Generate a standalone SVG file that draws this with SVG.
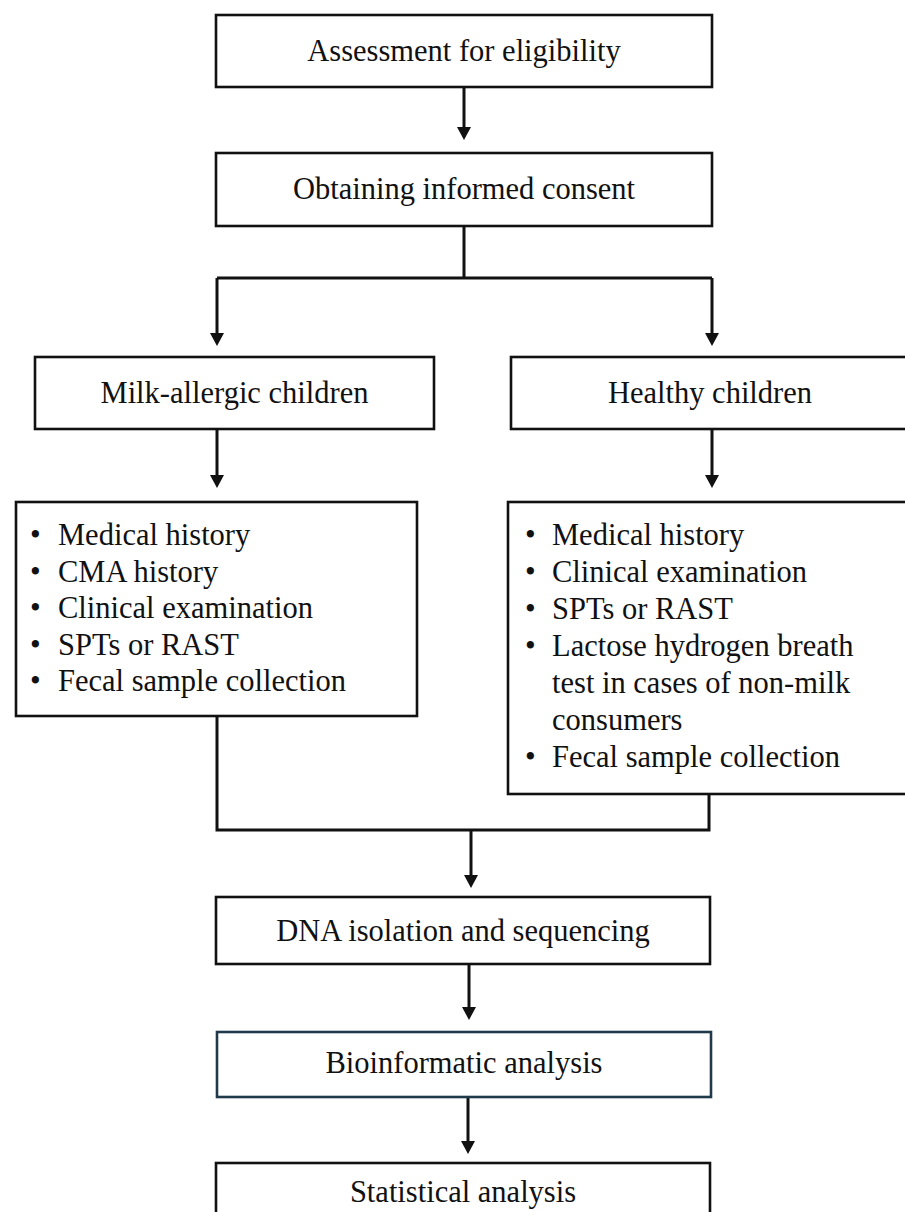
<svg xmlns="http://www.w3.org/2000/svg" width="905" height="1212" viewBox="0 0 905 1212">
<style>
.box{fill:#fff;stroke:#111;stroke-width:2.6}
.teal{stroke:#203a4a}
.t{font-family:"Liberation Serif","Times New Roman",serif;font-size:30.5px;fill:#111}
.c{text-anchor:middle}
.conn{fill:none;stroke:#111;stroke-width:3}
</style>
<defs>
<marker id="ah" markerUnits="userSpaceOnUse" viewBox="0 0 13 14" refX="3" refY="7" markerWidth="13" markerHeight="14" orient="auto">
<path d="M0,0 L13,7 L0,14 z" fill="#111"/>
</marker>
</defs>
<rect width="905" height="1212" fill="#fff"/>
<g id="connectors">
<path class="conn" d="M464,87 V130" marker-end="url(#ah)"/>
<path class="conn" d="M464,226 V278 M217,278 H712"/>
<path class="conn" d="M217,278 V336" marker-end="url(#ah)"/>
<path class="conn" d="M712,278 V336" marker-end="url(#ah)"/>
<path class="conn" d="M217,429 V478" marker-end="url(#ah)"/>
<path class="conn" d="M712,429 V478" marker-end="url(#ah)"/>
<path class="conn" d="M217,716 V830 H709 V794"/>
<path class="conn" d="M471,830 V878" marker-end="url(#ah)"/>
<path class="conn" d="M469,964 V1010" marker-end="url(#ah)"/>
<path class="conn" d="M468,1097 V1144" marker-end="url(#ah)"/>
</g>
<g id="n1">
<rect class="box" x="216" y="15" width="496" height="72"/>
<text class="t c" x="464" y="61">Assessment for eligibility</text>
</g>
<g id="n2">
<rect class="box" x="216" y="153" width="496" height="73"/>
<text class="t c" x="464" y="199">Obtaining informed consent</text>
</g>
<g id="n3">
<rect class="box" x="35" y="357" width="399" height="72"/>
<text class="t c" x="234.5" y="403">Milk-allergic children</text>
</g>
<g id="n4">
<rect class="box" x="511" y="357" width="400" height="72"/>
<text class="t c" x="710" y="403">Healthy children</text>
</g>
<g id="n5">
<rect class="box" x="16" y="502" width="401" height="214"/>
<g class="t">
<text x="30" y="545">•</text><text x="58" y="545">Medical history</text>
<text x="30" y="581.5">•</text><text x="58" y="581.5">CMA history</text>
<text x="30" y="618">•</text><text x="58" y="618">Clinical examination</text>
<text x="30" y="654.5">•</text><text x="58" y="654.5">SPTs or RAST</text>
<text x="30" y="691">•</text><text x="58" y="691">Fecal sample collection</text>
</g>
</g>
<g id="n6">
<rect class="box" x="508" y="502" width="410" height="292"/>
<g class="t">
<text x="525" y="545">•</text><text x="552" y="545">Medical history</text>
<text x="525" y="582">•</text><text x="552" y="582">Clinical examination</text>
<text x="525" y="619">•</text><text x="552" y="619">SPTs or RAST</text>
<text x="525" y="656">•</text><text x="552" y="656">Lactose hydrogen breath</text>
<text x="552" y="693">test in cases of non-milk</text>
<text x="552" y="730">consumers</text>
<text x="525" y="767">•</text><text x="552" y="767">Fecal sample collection</text>
</g>
</g>
<g id="n7">
<rect class="box" x="216" y="897" width="494" height="67"/>
<text class="t c" x="463" y="941">DNA isolation and sequencing</text>
</g>
<g id="n8">
<rect class="box teal" x="217" y="1032" width="494" height="65"/>
<text class="t c" x="464" y="1073">Bioinformatic analysis</text>
</g>
<g id="n9">
<rect class="box" x="216" y="1163" width="494" height="70"/>
<text class="t c" x="463" y="1202">Statistical analysis</text>
</g>
</svg>
